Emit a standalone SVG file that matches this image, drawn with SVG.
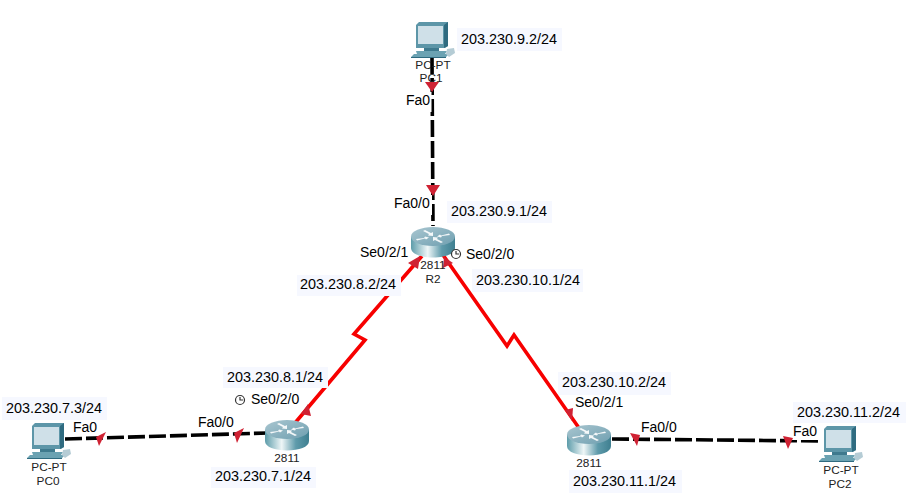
<svg xmlns="http://www.w3.org/2000/svg" width="921" height="501" viewBox="0 0 921 501">
<style>
text{font-family:"Liberation Sans",Arial,sans-serif;fill:#000}
.ip{font-size:14.4px}
.pt{font-size:14px}
.sm{font-size:11.8px;fill:#222}
.mid{text-anchor:middle}
.bg{fill:#f6f8ff}
.wh{fill:#fff}
.eth{fill:none;stroke:#000;stroke-width:3.6;stroke-dasharray:17 4}
.ser{fill:none;stroke:#f70000;stroke-width:3.6;stroke-linejoin:miter}
.tri{fill:#cf2233}
.clk{fill:#fff;stroke:#333;stroke-width:1.2}
</style>
<defs>
<linearGradient id="side" x1="0" x2="1" y1="0" y2="0">
<stop offset="0" stop-color="#5d9caa"/><stop offset=".38" stop-color="#eef6f7"/><stop offset=".7" stop-color="#5f9bab"/><stop offset="1" stop-color="#3f7f90"/>
</linearGradient>
<linearGradient id="top" x1="0" x2="1" y1="0" y2="1">
<stop offset="0" stop-color="#a9c6d0"/><stop offset="1" stop-color="#6f9fb0"/>
</linearGradient>
<symbol id="router" width="44" height="31" viewBox="0 0 44 31" overflow="visible">
<path d="M0 10V21C0 27 10 30.500 22 30.500S44 27 44 21V10Z" fill="url(#side)"/>
<ellipse cx="22" cy="9.500" rx="22" ry="9.500" fill="url(#top)"/>
<path d="M5 12l8-1 1-1.500 4 1-3 2-1-1-8 2zM39 8l-8 1-1 1.500-4-1 3-2 1 1 8-2zM14 3l6 3 2-1v4l-5-.500 1-1.500-6-3zM30 16l-6-3-2 1v-4l5 .500-1 1.500 6 3z" fill="#fff" opacity=".9"/>
</symbol>
<symbol id="pc" width="44" height="36" viewBox="0 0 44 36" overflow="visible">
<path d="M5 3L8 0H37V24L34 26H5Z" fill="#5d96a8"/>
<path d="M7 4H32V22H7Z" fill="#cfe0e8"/>
<path d="M33 3L37 0V24L33 26Z" fill="#2f6b80"/>
<path d="M13 26H28V29H13Z" fill="#3f7a8e"/>
<path d="M5 29H36L34 32H38L35 35H0L3 32H6Z" fill="#6ba2b2"/>
<path d="M36 27L43 26 44 31 38 35 35 32Z" fill="#b5ccd5"/>
<path d="M0 35H35V36H0Z" fill="#2f6b80"/>
</symbol>
</defs>
<rect width="921" height="501" fill="#fff"/>
<g id="connectors">
<path class="eth" d="M432 57L433 226"/>
<path class="eth" d="M65 439L268 433"/>
<path class="eth" d="M612 439L820 441"/>
<path class="ser" d="M295 423L365 340L354 334L422 256"/>
<path class="ser" d="M443 255L507 346L514 335L579 428"/>
</g>
<g id="port-backgrounds">
<rect class="wh" x="403" y="92" width="28.500" height="20"/>
<rect class="wh" x="391" y="195" width="41" height="20"/>
<rect class="wh" x="791" y="424" width="30" height="16"/>
</g>
<g id="link-markers">
<polygon class="tri" points="425,82 439,82 432,92"/>
<polygon class="tri" points="426,185 440,185 433,196"/>
<polygon class="tri" points="96,437 106,432 99,446"/>
<polygon class="tri" points="234,433 244,428 237,443"/>
<polygon class="tri" points="630,433 640,435 637,446"/>
<polygon class="tri" points="783,436 793,438 788,449"/>
<polygon class="tri" points="301,414 308,404 311,416"/>
<polygon class="tri" points="408,263 420,256 418,269"/>
<polygon class="tri" points="443,268 444,257 453,263"/>
<polygon class="tri" points="565,410 573,408 572,421"/>
</g>
<g id="PC1"><use href="#pc" x="411" y="22"/><text class="sm mid" x="433" y="69">PC-PT</text><text class="sm mid" x="431" y="82">PC1</text></g>
<g id="R2"><use href="#router" x="411" y="227"/><text class="sm mid" x="433" y="269">2811</text><text class="sm mid" x="433" y="283">R2</text></g>
<g id="Router0"><use href="#router" x="265" y="420"/><text class="sm mid" x="287" y="462">2811</text></g>
<g id="Router1"><use href="#router" x="567" y="425"/><text class="sm mid" x="589" y="467">2811</text></g>
<g id="PC0"><use href="#pc" x="27" y="423"/><text class="sm mid" x="49" y="471">PC-PT</text><text class="sm mid" x="48" y="485">PC0</text></g>
<g id="PC2"><use href="#pc" x="819" y="426"/><text class="sm mid" x="841" y="474">PC-PT</text><text class="sm mid" x="840" y="488">PC2</text></g>
<g id="labels">
<rect class="bg" x="457" y="28" width="105" height="23"/><text class="ip" x="461" y="44">203.230.9.2/24</text>
<text class="pt" x="406" y="105">Fa0</text>
<text class="pt" x="394" y="208">Fa0/0</text>
<rect class="bg" x="447" y="201" width="105" height="22"/><text class="ip" x="451" y="216">203.230.9.1/24</text>
<text class="pt" x="360" y="257">Se0/2/1</text>
<g class="clk"><circle cx="456" cy="254" r="4.500"/><path d="M456 251V254H459" fill="none"/></g>
<text class="pt" x="466" y="259">Se0/2/0</text>
<rect class="bg" x="297" y="275" width="104" height="21"/><text class="ip" x="300" y="289">203.230.8.2/24</text>
<rect class="bg" x="472" y="269" width="111" height="23"/><text class="ip" x="476" y="285">203.230.10.1/24</text>
<rect class="bg" x="223" y="367" width="105" height="21"/><text class="ip" x="227" y="382">203.230.8.1/24</text>
<g class="clk"><circle cx="240" cy="400" r="4.500"/><path d="M240 397V400H243" fill="none"/></g>
<text class="pt" x="251" y="404">Se0/2/0</text>
<text class="pt" x="198" y="427">Fa0/0</text>
<text class="pt" x="73" y="432">Fa0</text>
<rect class="bg" x="2" y="397" width="105" height="23"/><text class="ip" x="6" y="413">203.230.7.3/24</text>
<rect class="bg" x="211" y="467" width="105" height="21"/><text class="ip" x="215" y="481">203.230.7.1/24</text>
<rect class="bg" x="558" y="372" width="113" height="23"/><text class="ip" x="562" y="387">203.230.10.2/24</text>
<text class="pt" x="575" y="407">Se0/2/1</text>
<text class="pt" x="641" y="432">Fa0/0</text>
<rect class="bg" x="569" y="470" width="113" height="23"/><text class="ip" x="573" y="486">203.230.11.1/24</text>
<rect class="bg" x="793" y="402" width="113" height="21"/><text class="ip" x="797" y="417">203.230.11.2/24</text>
<text class="pt" x="793" y="436">Fa0</text>
</g>
</svg>
